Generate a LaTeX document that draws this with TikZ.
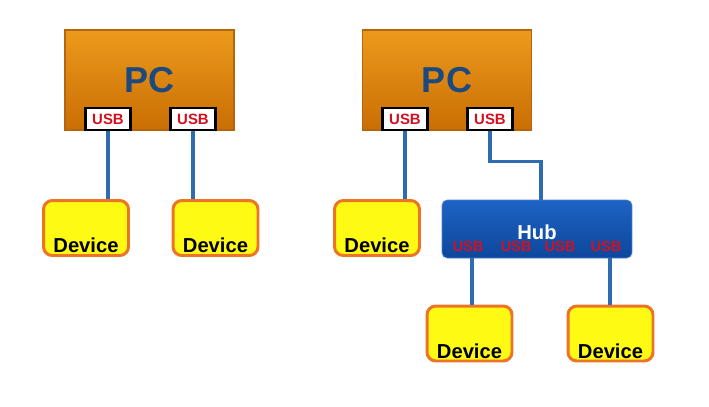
\documentclass[tikz,border=0pt]{standalone}
\usepackage{fontspec}
\setmainfont{Liberation Sans}
\usepackage{tikz}
\usetikzlibrary{positioning,calc}

\definecolor{pcTop}{HTML}{EC9A1C}
\definecolor{pcBot}{HTML}{C96E04}
\definecolor{pcLine}{HTML}{B5650C}
\definecolor{pcText}{HTML}{1C4A7E}
\definecolor{wire}{HTML}{2F6BB0}
\definecolor{hubTop}{HTML}{1E63C4}
\definecolor{hubBot}{HTML}{0C479C}
\definecolor{devLine}{HTML}{EC7424}
\definecolor{devFill}{HTML}{FFFA14}
\definecolor{usbRed}{HTML}{D4101E}

\begin{document}
\begin{tikzpicture}[
    x=0.02cm, y=-0.02cm,
    pc/.style={
        rectangle,
        draw=pcLine,
        thick,
        top color=pcTop,
        bottom color=pcBot,
        minimum width=3.38cm,
        minimum height=2cm,
        font=\fontsize{20.5}{22}\selectfont\bfseries,
        text=pcText
    },
    usbport/.style={
        rectangle,
        draw=black,
        line width=1.6pt,
        fill=white,
        minimum width=0.9cm,
        minimum height=0.44cm,
        inner sep=0pt,
        font=\fontsize{8.5}{9}\selectfont\bfseries,
        text=usbRed
    },
    device/.style={
        rectangle,
        rounded corners=5pt,
        draw=devLine,
        line width=1.7pt,
        fill=devFill,
        minimum width=1.7cm,
        minimum height=1.1cm,
        inner sep=0pt,
        text height=1.04cm,
        text depth=0.06cm,
        font=\fontsize{11.5}{12}\selectfont\bfseries
    },
    hubbox/.style={
        rectangle,
        rounded corners=3pt,
        draw=hubTop!80!white,
        thin,
        top color=hubTop,
        bottom color=hubBot,
        minimum width=3.8cm,
        minimum height=1.16cm,
        inner sep=0pt,
        text height=0.4cm,
        text depth=0cm,
        font=\fontsize{11.5}{12}\selectfont\bfseries,
        text=white
    },
    hubport/.style={
        inner sep=0pt,
        font=\fontsize{8.3}{9}\selectfont\bfseries,
        text=usbRed
    },
    link/.style={
        draw=wire,
        line width=2pt
    }
]
\useasboundingbox (0,0) rectangle (709,406);

% Left: devices straight on the PC
\node[pc] (pcL) at (149.5,80) {PC};
\node[usbport] (usbL1) at (108,119) {USB};
\node[usbport] (usbL2) at (193,119) {USB};

\node[device] (devL1) at (86,228) {Device};
\node[device] (devL2) at (215.5,228) {Device};

\draw[link] (usbL1.south) -- (usbL1.south |- devL1.north);
\draw[link] (usbL2.south) -- (usbL2.south |- devL2.north);

% Right: devices through a hub
\node[pc] (pcR) at (447,80) {PC};
\node[usbport] (usbR1) at (405,119) {USB};
\node[usbport] (usbR2) at (490,119) {USB};

\node[device] (devR1) at (377,228) {Device};

\node[hubbox] (hub) at (537,229) {Hub};
\node[hubport] (hubusb1) at (468,246) {USB};
\node[hubport] (hubusb2) at (516,246) {USB};
\node[hubport] (hubusb3) at (560,246) {USB};
\node[hubport] (hubusb4) at (606,246) {USB};

\node[device] (devR2) at (469.5,333.5) {Device};
\node[device] (devR3) at (610.5,333.5) {Device};

\draw[link] (usbR1.south) -- (usbR1.south |- devR1.north);
\draw[link] (usbR2.south) -- ++(0,30) -| ([xshift=0.08cm]hub.north);
\draw[link] ([xshift=0.08cm]hubusb1 |- hub.south) -- ([xshift=0.08cm]hubusb1 |- devR2.north);
\draw[link] ([xshift=0.08cm]hubusb4 |- hub.south) -- ([xshift=0.08cm]hubusb4 |- devR3.north);

\end{tikzpicture}
\end{document}
